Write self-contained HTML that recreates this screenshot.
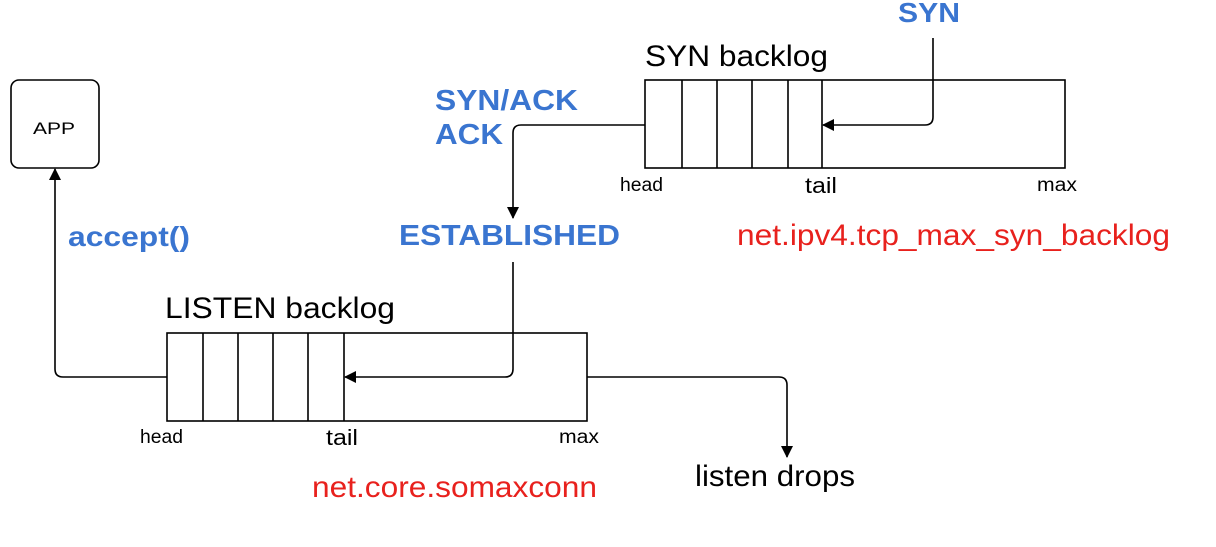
<!DOCTYPE html>
<html><head><meta charset="utf-8"><style>
body{margin:0;background:#fff;width:1216px;height:542px;overflow:hidden}
svg text{font-family:"Liberation Sans",sans-serif}
</style></head><body>
<svg width="1216" height="542" xmlns="http://www.w3.org/2000/svg">
<defs><marker id="a" markerWidth="12" markerHeight="12" refX="11" refY="6" orient="auto" markerUnits="userSpaceOnUse"><path d="M0,0 L12,6 L0,12z" fill="#000"/></marker></defs>
<g fill="none" stroke="#000" stroke-width="1.6">
<rect x="11" y="80" width="88" height="88" rx="8"/>
<rect x="645" y="80" width="420" height="88"/>
<path d="M682,80V168M717,80V168M752,80V168M788,80V168M822,80V168"/>
<rect x="167" y="333" width="420" height="88"/>
<path d="M203,333V421M238,333V421M273,333V421M308,333V421M344,333V421"/>
<path d="M933,38V117Q933,125 925,125H823" marker-end="url(#a)"/>
<path d="M645,125H521Q513,125 513,133V218" marker-end="url(#a)"/>
<path d="M513,262V369Q513,377 505,377H345" marker-end="url(#a)"/>
<path d="M167,377H63Q55,377 55,369V169" marker-end="url(#a)"/>
<path d="M587,377H779Q787,377 787,385V457" marker-end="url(#a)"/>
</g>
<text x="33" y="134" font-size="17" textLength="42" lengthAdjust="spacingAndGlyphs">APP</text>
<text x="898" y="22" font-size="28" font-weight="bold" fill="#3a75d0" textLength="62" lengthAdjust="spacingAndGlyphs">SYN</text>
<text x="645" y="66" font-size="30" textLength="183" lengthAdjust="spacingAndGlyphs">SYN backlog</text>
<text x="435" y="110" font-size="29" font-weight="bold" fill="#3a75d0" textLength="143" lengthAdjust="spacingAndGlyphs">SYN/ACK</text>
<text x="435" y="144" font-size="29" font-weight="bold" fill="#3a75d0" textLength="68" lengthAdjust="spacingAndGlyphs">ACK</text>
<text x="620" y="191" font-size="19" textLength="43" lengthAdjust="spacingAndGlyphs">head</text>
<text x="805" y="193" font-size="22" textLength="32" lengthAdjust="spacingAndGlyphs">tail</text>
<text x="1037" y="191" font-size="19" textLength="40" lengthAdjust="spacingAndGlyphs">max</text>
<text x="399" y="245" font-size="29" font-weight="bold" fill="#3a75d0" textLength="221" lengthAdjust="spacingAndGlyphs">ESTABLISHED</text>
<text x="737" y="245" font-size="30" fill="#e8211d" textLength="433" lengthAdjust="spacingAndGlyphs">net.ipv4.tcp_max_syn_backlog</text>
<text x="68" y="246" font-size="28" font-weight="bold" fill="#3a75d0" textLength="122" lengthAdjust="spacingAndGlyphs">accept()</text>
<text x="165" y="318" font-size="30" textLength="230" lengthAdjust="spacingAndGlyphs">LISTEN backlog</text>
<text x="140" y="443" font-size="19" textLength="43" lengthAdjust="spacingAndGlyphs">head</text>
<text x="326" y="445" font-size="22" textLength="32" lengthAdjust="spacingAndGlyphs">tail</text>
<text x="559" y="443" font-size="19" textLength="40" lengthAdjust="spacingAndGlyphs">max</text>
<text x="695" y="486" font-size="30" textLength="160" lengthAdjust="spacingAndGlyphs">listen drops</text>
<text x="312" y="497" font-size="30" fill="#e8211d" textLength="285" lengthAdjust="spacingAndGlyphs">net.core.somaxconn</text>
</svg>
</body></html>
